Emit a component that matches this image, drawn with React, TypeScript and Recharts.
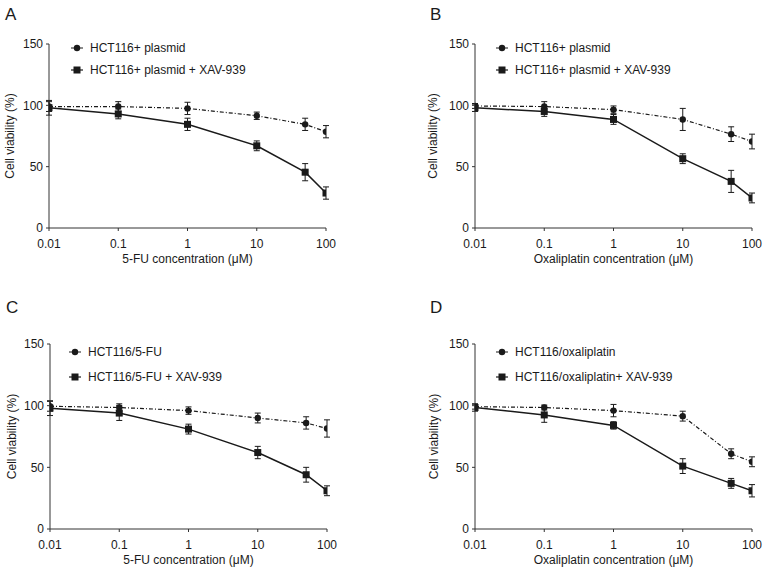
import React from 'react';
import { ComposedChart, Line, XAxis, YAxis, ErrorBar, Legend } from 'recharts';

// concentrations (µM) and axis ticks
const concentrations = [0.01, 0.1, 1, 10, 50, 100];
const xTicks = [0.01, 0.1, 1, 10, 100];
const yTicks = [0, 50, 100, 150];

// A: HCT116+ plasmid, 5-FU
const aPlasmid = [99, 99, 97.5, 91.5, 84.5, 78.5];
const aPlasmidErr = [4, 4, 5, 3, 5, 5];
const aPlasmidXav = [98, 93, 84.5, 67, 45.5, 28.5];
const aPlasmidXavErr = [6, 4, 5, 4, 7, 5];

// B: HCT116+ plasmid, oxaliplatin
const bPlasmid = [99.5, 99, 96.5, 88.5, 76.5, 70.5];
const bPlasmidErr = [2, 4, 3, 9, 6, 6];
const bPlasmidXav = [98, 95, 88.5, 56.5, 38, 24.5];
const bPlasmidXavErr = [3, 4, 4, 4, 9, 4];

// C: HCT116/5-FU
const cResist = [99.5, 98.5, 96, 90, 86, 81.5];
const cResistErr = [4, 3, 3, 4, 5, 7];
const cResistXav = [98, 94, 81, 62, 44, 31];
const cResistXavErr = [6, 6, 4, 5, 6, 4];

// D: HCT116/oxaliplatin
const dResist = [99.2, 98.5, 96, 91.5, 61, 54.5];
const dResistErr = [2, 2, 5, 4, 4, 4];
const dResistXav = [98.5, 92.5, 84, 51, 37, 31];
const dResistXavErr = [3, 6, 3, 6, 4, 5];

const FONT = '"Liberation Sans", Arial, Helvetica, sans-serif';
const INK = '#1a1a1a';
const AXIS = '#333';
const DASH = '4 2 1 2';

const buildRows = (a: number[], ae: number[], b: number[], be: number[]) =>
  concentrations.map((x, i) => ({ x, a: a[i], ae: ae[i], b: b[i], be: be[i] }));

const CircleDot = (p: any) =>
  p.cx == null ? null : <circle key={`c-${p.index}`} cx={p.cx} cy={p.cy} r={3.2} fill={INK} />;

const SquareDot = (p: any) =>
  p.cx == null ? null : (
    <rect key={`s-${p.index}`} x={p.cx - 3.5} y={p.cy - 3.5} width={7} height={7} fill={INK} />
  );

const LegendBox = ({ names, rowGap }: { names: string[]; rowGap: number }) => (
  <div style={{ fontFamily: FONT, fontSize: 12, color: INK }}>
    {names.map((n, i) => (
      <div key={n} style={{ display: 'flex', alignItems: 'center', height: rowGap }}>
        <svg width={12} height={10} style={{ marginRight: 7 }}>
          <line x1={0} y1={5} x2={12} y2={5} stroke={INK} strokeWidth={1.2} strokeDasharray={i === 0 ? '3 1.5' : undefined} />
          {i === 0 ? <circle cx={6} cy={5} r={3.2} fill={INK} /> : <rect x={2.5} y={1.5} width={7} height={7} fill={INK} />}
        </svg>
        <span>{n}</span>
      </div>
    ))}
  </div>
);

interface PanelProps {
  left: number;
  top: number;
  width: number;
  plotHeight: number;
  letter: string;
  letterPos: [number, number];
  xTitle: string;
  names: string[];
  rows: any[];
  legendLeft: number;
  legendTop: number;
  rowGap: number;
  yLabelX: number;
}

const Panel: React.FC<PanelProps> = ({
  left, top, width, plotHeight, letter, letterPos, xTitle, names, rows, legendLeft, legendTop, rowGap, yLabelX
}) => {
  const plotWidth = 277;
  const height = 44 + plotHeight + 36 + 8;
  return (
    <>
      <div style={{ position: 'absolute', left: letterPos[0], top: letterPos[1], fontFamily: FONT, fontSize: 17, color: INK }}>
        {letter}
      </div>
      <div style={{ position: 'absolute', left, top }}>
        <ComposedChart
          width={width}
          height={height}
          data={rows}
          margin={{ top: 44, right: width - 49 - plotWidth, bottom: 8, left: 0 }}
        >
          <XAxis
            dataKey="x"
            type="number"
            scale="log"
            domain={[0.01, 100]}
            ticks={xTicks}
            allowDataOverflow
            height={36}
            tickSize={3}
            tickMargin={8}
            stroke={AXIS}
            tick={{ fill: INK, fontSize: 12, fontFamily: FONT }}
            label={{ value: xTitle, position: 'insideBottom', offset: 1, fill: INK, fontSize: 12, fontFamily: FONT }}
          />
          <YAxis
            type="number"
            domain={[0, 150]}
            ticks={yTicks}
            width={49}
            tickSize={3}
            tickMargin={3}
            stroke={AXIS}
            tick={{ fill: INK, fontSize: 12, fontFamily: FONT }}
            label={{
              value: 'Cell viability (%)',
              angle: -90,
              position: 'insideLeft',
              offset: yLabelX,
              fill: INK,
              fontSize: 12,
              fontFamily: FONT,
              style: { textAnchor: 'middle' }
            }}
          />
          <Legend
            layout="horizontal"
            align="center"
            verticalAlign="middle"
            wrapperStyle={{ left: legendLeft, top: legendTop, width: 260 }}
            content={() => <LegendBox names={names} rowGap={rowGap} />}
          />
          <Line
            dataKey="a"
            name={names[0]}
            stroke={INK}
            strokeWidth={1.2}
            strokeDasharray={DASH}
            dot={CircleDot}
            activeDot={false}
            isAnimationActive={false}
          >
            <ErrorBar dataKey="ae" width={3} stroke={INK} strokeWidth={1} direction="y" />
          </Line>
          <Line
            dataKey="b"
            name={names[1]}
            stroke={INK}
            strokeWidth={1.5}
            dot={SquareDot}
            activeDot={false}
            isAnimationActive={false}
          >
            <ErrorBar dataKey="be" width={3} stroke={INK} strokeWidth={1} direction="y" />
          </Line>
        </ComposedChart>
      </div>
    </>
  );
};

export default function App() {
  return (
    <div style={{ position: 'absolute', left: 0, top: 0, width: 763, height: 572, background: '#fff', overflow: 'hidden' }}>
      <Panel
        left={0}
        top={0}
        width={360}
        plotHeight={184}
        letter="A"
        letterPos={[5, 5]}
        xTitle="5-FU concentration (μM)"
        names={['HCT116+ plasmid', 'HCT116+ plasmid + XAV-939']}
        rows={buildRows(aPlasmid, aPlasmidErr, aPlasmidXav, aPlasmidXavErr)}
        legendLeft={71}
        legendTop={37}
        rowGap={22}
        yLabelX={10}
      />
      <Panel
        left={426}
        top={0}
        width={337}
        plotHeight={184}
        letter="B"
        letterPos={[430, 5]}
        xTitle="Oxaliplatin concentration (μM)"
        names={['HCT116+ plasmid', 'HCT116+ plasmid + XAV-939']}
        rows={buildRows(bPlasmid, bPlasmidErr, bPlasmidXav, bPlasmidXavErr)}
        legendLeft={70}
        legendTop={37}
        rowGap={22}
        yLabelX={7}
      />
      <Panel
        left={1}
        top={300}
        width={360}
        plotHeight={185}
        letter="C"
        letterPos={[6, 298]}
        xTitle="5-FU concentration (μM)"
        names={['HCT116/5-FU', 'HCT116/5-FU + XAV-939']}
        rows={buildRows(cResist, cResistErr, cResistXav, cResistXavErr)}
        legendLeft={68}
        legendTop={39}
        rowGap={25}
        yLabelX={11}
      />
      <Panel
        left={426}
        top={300}
        width={337}
        plotHeight={185}
        letter="D"
        letterPos={[430, 298]}
        xTitle="Oxaliplatin concentration (μM)"
        names={['HCT116/oxaliplatin', 'HCT116/oxaliplatin+ XAV-939']}
        rows={buildRows(dResist, dResistErr, dResistXav, dResistXavErr)}
        legendLeft={70}
        legendTop={39}
        rowGap={25}
        yLabelX={8}
      />
    </div>
  );
}
